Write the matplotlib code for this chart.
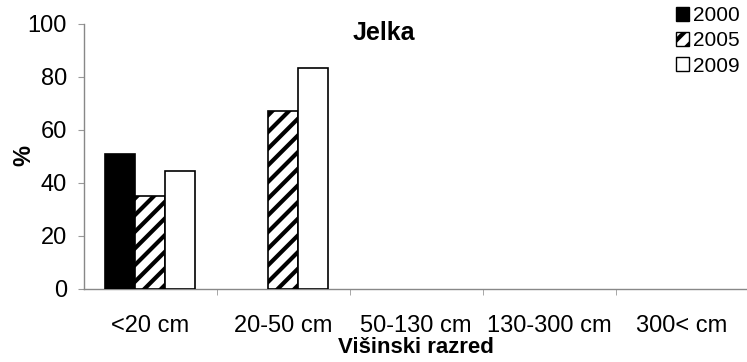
import numpy as np
import matplotlib.pyplot as plt
from matplotlib.patches import Patch

plt.rcParams['font.family'] = ['Liberation Sans', 'DejaVu Sans']
plt.rcParams['hatch.linewidth'] = 3.0

categories = ['<20 cm', '20-50 cm', '50-130 cm', '130-300 cm', '300< cm']
years = ['2000', '2005', '2009']
v2000 = [51, 0, 0, 0, 0]
v2005 = [35, 67, 0, 0, 0]
v2009 = [44.5, 83.5, 0, 0, 0]

fig = plt.figure(figsize=(7.47, 3.62), dpi=100)
ax = fig.add_axes([0.112, 0.2017, 0.89, 0.7323])

x = np.arange(len(categories))
w = 0.225
styles = [dict(color='black', edgecolor='black'),
          dict(color='white', edgecolor='black', hatch='//'),
          dict(color='white', edgecolor='black')]
for i, (vals, st) in enumerate(zip([v2000, v2005, v2009], styles)):
    xs = [xi + (i - 1) * w for xi, v in zip(x, vals) if v > 0]
    vs = [v for v in vals if v > 0]
    ax.bar(xs, vs, width=w, linewidth=1.2, zorder=3, **st)

ax.set_xlim(-0.5, 4.5)
ax.set_ylim(0, 100)
ax.set_yticks([0, 20, 40, 60, 80, 100])
ax.set_xticks(x)
ax.set_xticklabels(categories)
ax.set_xticks(np.arange(0.5, 4.5, 1), minor=True)
ax.tick_params(axis='x', which='major', length=0, pad=19, labelsize=17)
ax.tick_params(axis='x', which='minor', length=4, direction='out', color='#999999')
ax.tick_params(axis='y', length=4, direction='out', color='#999999', labelsize=17, pad=8)

for s in ['top', 'right']:
    ax.spines[s].set_visible(False)
for s in ['left', 'bottom']:
    ax.spines[s].set_color('#888888')
    ax.spines[s].set_linestyle((0, (1, 1)))
    ax.spines[s].set_linewidth(1)

fig.text(0.032, 0.57, '%', fontsize=17, fontweight='bold', rotation=90, ha='center', va='center')
fig.text(0.557, 0.01, 'Višinski razred', fontsize=16, fontweight='bold', ha='center', va='bottom')
fig.text(0.514, 0.908, 'Jelka', fontsize=18, fontweight='bold', ha='center', va='center')

handles = [Patch(facecolor='black', edgecolor='black'),
           Patch(facecolor='white', edgecolor='black', hatch='//'),
           Patch(facecolor='white', edgecolor='black')]
fig.legend(handles, years, loc='upper right', bbox_to_anchor=(0.998, 1.0), frameon=False,
           borderpad=0.3, borderaxespad=0, fontsize=15, handlelength=0.65, handleheight=0.65,
           handletextpad=0.15, labelspacing=0.3)

fig.savefig('out.png', dpi=100)
